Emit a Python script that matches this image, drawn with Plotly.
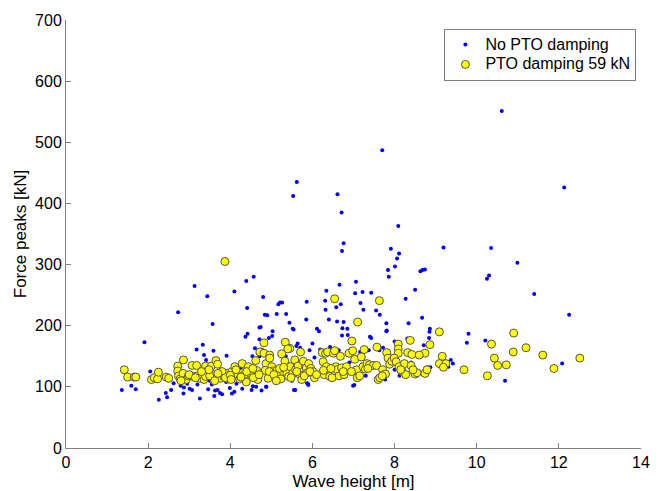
import plotly.graph_objects as go

# ---- data ----
blue_x = [1.36, 1.59, 1.70, 1.91, 2.05, 2.26, 2.43, 2.46, 2.56, 2.62, 2.73, 2.79, 2.86, 2.87, 3.01, 3.07,
          3.13, 3.18, 3.26, 3.33, 3.36, 3.41, 3.44, 3.46, 3.57, 3.59, 3.61, 3.63, 3.69, 3.75, 3.80, 3.91,
          3.99, 4.04, 4.10, 4.10, 4.29, 4.37, 4.41, 4.42, 4.39, 4.57, 4.52, 4.55, 4.60, 4.71, 4.71, 4.80,
          4.84, 4.90, 4.88, 4.76, 5.03, 5.02, 5.13, 5.17, 5.21, 5.26, 5.36, 5.44, 5.53, 5.52, 5.55, 5.62,
          5.64, 5.85, 5.86, 6.00, 5.87, 5.89, 6.11, 6.16, 6.31, 6.32, 6.34, 6.40, 6.58, 6.60, 6.61, 6.66,
          6.69, 6.71, 6.72, 6.76, 6.76, 6.86, 6.73, 6.99, 7.04, 7.06, 7.17, 7.22, 7.24, 7.43, 7.40, 7.55,
          7.64, 7.70, 7.80, 7.84, 7.86, 7.80, 7.91, 8.01, 8.06, 8.09, 8.11, 8.27, 8.34, 8.50, 8.63, 8.68,
          8.74, 8.67, 8.85, 8.86, 9.19, 9.37, 9.42, 9.31, 9.76, 9.80, 10.21, 10.25, 10.30, 10.35, 10.61, 10.69,
          10.99, 11.40, 12.08, 12.13, 12.25,
          4.54, 4.64, 4.87, 4.63, 5.58, 5.09, 5.90, 7.02, 7.57, 7.77, 8.12, 8.51, 8.87, 5.70, 5.93, 5.61,
          5.36, 6.19, 6.43, 6.64, 7.16, 7.37, 7.63, 7.72, 8.00, 8.71, 4.77, 4.71, 4.97, 4.94, 6.72, 7.43,
          8.31, 8.84, 6.85, 7.81, 5.54, 4.74,
          3.00, 3.30, 3.50, 3.90, 4.20, 4.45, 2.95, 3.20, 3.55, 3.85, 4.15, 4.35, 5.20, 5.50, 5.80, 6.30,
          6.60, 7.30, 8.00, 8.40, 8.80, 6.05, 6.90, 7.95, 5.35, 4.25]
blue_y = [95, 102, 96, 173, 125, 79, 90, 83, 95, 106, 222, 102, 89, 99, 97, 95,
          265, 161, 81, 169, 152, 144, 248, 96, 203, 159, 85, 94, 95, 90, 88, 151,
          98, 89, 256, 92, 97, 182, 229, 187, 273, 280, 95, 101, 163, 197, 178, 247,
          218, 217, 100, 94, 191, 183, 219, 235, 238, 238, 219, 205, 412, 195, 95, 435,
          171, 210, 239, 171, 106, 105, 195, 191, 241, 226, 257, 210, 230, 207, 415, 267,
          235, 385, 322, 335, 206, 185, 196, 102, 253, 272, 237, 255, 226, 254, 182, 225,
          218, 487, 204, 291, 280, 191, 326, 297, 310, 363, 318, 244, 204, 259, 289, 291,
          292, 213, 190, 195, 328, 144, 138, 133, 172, 187, 176, 277, 282, 327, 551, 110,
          303, 252, 138, 426, 218,
          150, 144, 100, 100, 95, 107, 103, 103, 111, 112, 118, 124, 132, 164, 160, 167,
          171, 161, 165, 160, 157, 160, 160, 164, 174, 168, 160, 150, 154, 180, 184, 180,
          179, 180, 195, 192, 194, 198,
          122, 128, 110, 108, 115, 125, 105, 104, 104, 118, 105, 110, 112, 110, 115, 118,
          125, 118, 128, 140, 132, 148, 140, 150, 150, 130]

yellow_x = [3.87, 6.54, 7.63, 7.10, 9.09, 10.90, 8.38, 6.96, 5.34, 4.82, 10.36, 8.09, 8.86, 11.20, 7.26, 5.45,
            5.40, 7.57, 8.09, 8.09, 8.32, 8.42, 8.74, 10.89, 11.61, 12.51, 10.43, 9.16, 9.09, 9.25, 9.19, 10.51,
            10.72, 9.69, 11.88, 10.26, 5.71, 4.75, 2.86, 2.72, 1.42, 1.50, 1.66, 1.70, 2.08, 2.15,
            2.23, 2.25, 2.44, 2.50, 2.72, 2.74, 2.78, 2.85, 2.93, 2.98, 3.07, 3.18, 3.10, 3.19, 3.26, 3.36,
            3.40, 3.44, 3.40, 3.54, 3.57, 3.60, 3.65, 3.69, 3.72, 3.77, 3.84, 3.93, 3.96, 4.04, 4.08, 4.11,
            4.18, 4.23, 4.29, 4.30, 4.34, 4.39, 4.44, 4.51, 4.62, 4.64, 4.65, 4.67, 4.72, 4.82, 4.87, 4.85,
            4.92, 4.96, 4.96, 5.01, 5.03, 5.09, 5.14, 5.16, 5.23, 5.25, 5.29, 5.33, 5.38, 5.42, 5.46, 5.52,
            5.57, 5.59, 5.65, 5.70, 5.74, 5.78, 5.85, 5.88, 5.91, 5.96, 6.01, 6.05, 6.24, 6.26, 6.29, 6.32,
            6.34, 6.37, 6.42, 6.48, 6.51, 6.54, 6.57, 6.60, 6.65, 6.68, 6.71, 6.77, 6.83, 6.89, 6.98, 7.03,
            7.08, 7.09, 7.19, 7.23, 7.29, 7.33, 7.39, 7.48, 7.56, 7.60, 7.64, 7.71, 7.74, 7.78, 7.81, 7.84,
            7.88, 7.93, 7.99, 8.04, 8.11, 8.19, 8.24, 8.27, 8.40, 8.50, 8.55, 8.60, 8.74, 8.79,
            2.80, 3.00, 3.15, 3.30, 3.50, 3.62, 3.80, 3.88, 4.00, 4.14, 4.26, 4.40, 4.56, 4.70, 4.95, 5.06,
            5.12, 5.20, 5.48, 5.62, 5.80, 5.94, 6.27, 6.45, 6.75, 7.15, 7.35, 7.70, 8.15, 8.45, 3.48, 3.70,
            4.02, 4.55, 5.30, 6.10, 6.95]
yellow_y = [305, 244, 241, 206, 190, 188, 176, 175, 173, 172, 170, 170, 169, 164, 161, 163,
            162, 165, 162, 155, 156, 153, 155, 157, 152, 147, 147, 150, 138, 138, 132, 135,
            136, 128, 130, 118, 157, 157, 144, 134, 128, 116, 116, 116, 112, 115,
            113, 124, 116, 114, 126, 118, 113, 122, 112, 118, 135, 135, 117, 118, 114, 112,
            134, 126, 117, 134, 120, 112, 143, 137, 120, 114, 117, 122, 113, 125, 117, 133,
            120, 113, 138, 123, 120, 108, 133, 121, 143, 127, 117, 112, 157, 155, 138, 127,
            114, 152, 147, 133, 126, 117, 127, 120, 113, 154, 125, 142, 122, 117, 133, 122,
            144, 128, 134, 120, 112, 142, 131, 123, 138, 130, 125, 115, 156, 141, 120, 155,
            133, 157, 117, 115, 155, 159, 133, 128, 118, 150, 131, 120, 133, 155, 159, 145,
            128, 115, 149, 133, 129, 138, 136, 135, 135, 112, 115, 128, 120, 121, 156, 147,
            137, 142, 147, 141, 133, 125, 138, 120, 135, 121, 123, 152, 122, 128,
            110, 120, 115, 125, 118, 110, 125, 115, 119, 128, 116, 125, 115, 120, 125, 120,
            110, 130, 115, 125, 118, 125, 127, 130, 125, 118, 130, 118, 128, 128, 128, 122,
            112, 130, 132, 120, 125]

series_names = ["No PTO damping", "PTO damping 59 kN"]
x_ticks = [0, 2, 4, 6, 8, 10, 12, 14]
y_ticks = [0, 100, 200, 300, 400, 500, 600, 700]

AX = "#808080"
FONT = "Liberation Sans, Arial, sans-serif"


def legend_label(s):
    return '<span style="font-size:16px">' + s + '</span>'


fig = go.Figure()
fig.add_trace(go.Scatter(
    x=blue_x, y=blue_y, mode="markers", name=legend_label(series_names[0]),
    marker=dict(color="#0000FF", size=4, line=dict(width=0)),
))
fig.add_trace(go.Scatter(
    x=yellow_x, y=yellow_y, mode="markers", name=legend_label(series_names[1]),
    marker=dict(color="#FFFF00", size=8, line=dict(color="#55553a", width=1)),
))

axis_common = dict(
    showgrid=False, zeroline=False, showline=True, linecolor=AX, linewidth=1,
    ticks="inside", ticklen=5, tickcolor=AX, tickwidth=1, mirror=False,
    tickfont=dict(family=FONT, size=16, color="black"),
)
fig.update_xaxes(range=[0, 14], tickvals=x_ticks, ticktext=[str(v) for v in x_ticks],
                 automargin=False,
                 title=dict(text="Wave height [m]", font=dict(family=FONT, size=17, color="black")),
                 **axis_common)
fig.update_yaxes(range=[0, 700], tickvals=y_ticks, ticktext=[str(v) for v in y_ticks],
                 automargin=True,
                 title=dict(text="Force peaks [kN]", font=dict(family=FONT, size=17, color="black"), standoff=4),
                 **axis_common)

fig.update_layout(
    width=665, height=491,
    margin=dict(l=66, r=24, t=14, b=43, pad=0),
    paper_bgcolor="white", plot_bgcolor="white",
    font=dict(family=FONT, size=16, color="black"),
    showlegend=True,
    legend=dict(x=0.992, y=0.98, xanchor="right", yanchor="top",
                bordercolor=AX, borderwidth=1, bgcolor="white",
                font=dict(family=FONT, size=13, color="black"),
                tracegroupgap=0, itemsizing="trace"),
)

fig.write_html("out.html")
